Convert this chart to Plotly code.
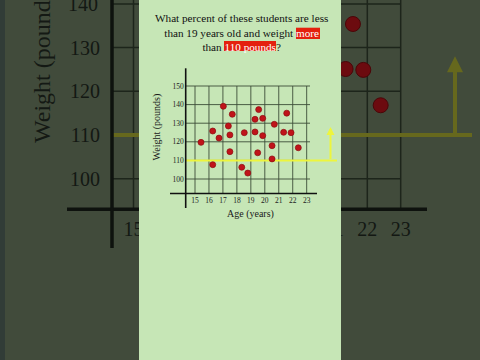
import plotly.graph_objects as go

# ---- data ----
ages = [15.43, 16.27, 16.27, 16.72, 17.03, 17.67, 17.39, 17.5, 17.5, 18.53, 18.35, 18.78, 19.3,
        19.3, 19.56, 19.85, 19.85, 19.49, 20.68, 20.52, 20.52, 21.35, 21.57, 21.88, 22.4]
weights = [119.7, 125.8, 107.7, 122.0, 139.1, 134.8, 128.5, 123.7, 114.7, 124.9, 106.3, 103.2, 132.1,
           125.3, 137.3, 132.6, 123.3, 114.1, 129.4, 117.9, 110.8, 125.1, 135.4, 124.9, 116.8]
age_ticks = [15, 16, 17, 18, 19, 20, 21, 22, 23]
weight_ticks = [100, 110, 120, 130, 140, 150]
threshold = 110
arrow_top = 128

W, H = 480, 360
SERIF = "Liberation Serif, Times New Roman, serif"

# ---- pixel mappings ----
bpx15, bpx_per = 133.5, 33.4      # background chart: value 15 at 133.5px, 33.4 px/yr
bpy110, bpy_per = 135.0, 4.37     # value 110 at 135px, 4.37 px/lb
def bgx(px): return 15 + (px - bpx15) / bpx_per
def bgy(py): return 110 + (bpy110 - py) / bpy_per

spx15, spx_per = 195.0, 13.96     # small chart
spy100, spy_per = 179.0, 1.86
def smx(px): return 15 + (px - spx15) / spx_per
def smy(py): return 100 + (spy100 - py) / spy_per

panel_l, panel_r = 139, 341

fig = go.Figure()

# background chart dots
fig.add_trace(go.Scatter(x=ages, y=weights, mode="markers", xaxis="x", yaxis="y",
                         marker=dict(size=15, color="#6c0b0f", line=dict(color="#4a0608", width=1)),
                         hoverinfo="skip", showlegend=False))
# green panel
fig.add_trace(go.Scatter(x=[0, 1, 1, 0], y=[0, 0, 1, 1], fill="toself", mode="lines",
                         fillcolor="#c6e6b6", line=dict(width=0), xaxis="x2", yaxis="y2",
                         hoverinfo="skip", showlegend=False))
# small chart dots
fig.add_trace(go.Scatter(x=ages, y=weights, mode="markers", xaxis="x3", yaxis="y3",
                         marker=dict(size=6, color="#c0141a", line=dict(color="#8c0c10", width=0.7)),
                         hoverinfo="skip", showlegend=False))

shapes = []
# ---- background chart decorations ----
bg_x_axis_y = bgy(209.3)
bg_y_axis_x = bgx(112)
bg_grid = "#1d251b"
for v in weight_ticks:
    shapes.append(dict(type="line", xref="x", yref="y", x0=bg_y_axis_x, x1=23, y0=v, y1=v,
                       line=dict(color=bg_grid, width=1.5), layer="below"))
for v in age_ticks:
    shapes.append(dict(type="line", xref="x", yref="y", x0=v, x1=v, y0=bg_x_axis_y, y1=150,
                       line=dict(color=bg_grid, width=1.5), layer="below"))
shapes.append(dict(type="line", xref="x", yref="y", x0=bg_y_axis_x, x1=bgx(472), y0=threshold, y1=threshold,
                   line=dict(color="#66681d", width=4), layer="below"))
shapes.append(dict(type="line", xref="x", yref="y", x0=bgx(67), x1=bgx(427), y0=bg_x_axis_y, y1=bg_x_axis_y,
                   line=dict(color="#0e120e", width=3.5), layer="below"))
shapes.append(dict(type="line", xref="x", yref="y", x0=bg_y_axis_x, x1=bg_y_axis_x, y0=bgy(248), y1=150,
                   line=dict(color="#0e120e", width=3.5), layer="below"))
shapes.append(dict(type="rect", xref="paper", yref="paper", x0=0, x1=5 / W, y0=0, y1=1,
                   fillcolor="#313c37", line=dict(width=0), layer="below"))

# ---- small chart decorations ----
sm_x_axis_y = smy(193.5)
sm_y_axis_x = smx(185.7)
sm_grid = "#3c4d38"
for v in weight_ticks:
    shapes.append(dict(type="line", xref="x3", yref="y3", x0=sm_y_axis_x, x1=smx(310), y0=v, y1=v,
                       line=dict(color=sm_grid, width=0.9), layer="below"))
for v in age_ticks:
    shapes.append(dict(type="line", xref="x3", yref="y3", x0=v, x1=v, y0=sm_x_axis_y, y1=150,
                       line=dict(color=sm_grid, width=0.9), layer="below"))
shapes.append(dict(type="line", xref="x3", yref="y3", x0=sm_y_axis_x, x1=smx(337), y0=threshold, y1=threshold,
                   line=dict(color="#eef53c", width=2), layer="below"))
shapes.append(dict(type="line", xref="x3", yref="y3", x0=smx(170), x1=smx(317), y0=sm_x_axis_y, y1=sm_x_axis_y,
                   line=dict(color="#111111", width=1.6), layer="below"))
shapes.append(dict(type="line", xref="x3", yref="y3", x0=sm_y_axis_x, x1=sm_y_axis_x, y0=smy(208), y1=smy(68.3),
                   line=dict(color="#111111", width=1.6), layer="below"))

# red highlight boxes for question words
shapes.append(dict(type="rect", xref="paper", yref="paper", x0=296 / W, x1=320 / W,
                   y0=1 - 39 / H, y1=1 - 27.7 / H, fillcolor="#e4200e", line=dict(width=0), layer="above"))
shapes.append(dict(type="rect", xref="paper", yref="paper", x0=224 / W, x1=276 / W,
                   y0=1 - 51 / H, y1=1 - 41 / H, fillcolor="#e4200e", line=dict(width=0), layer="above"))

annotations = [
    dict(xref="paper", yref="paper", x=241.5 / W, y=1 - 32.5 / H, xanchor="center", yanchor="middle",
         showarrow=False, align="center",
         text="What percent of these students are less<br>than 19 years old and weight "
              "<span style='color:white'>more</span><br>than <span style='color:white'>110 pounds</span>?",
         font=dict(family=SERIF, size=11.2, color="#111111")),
    dict(xref="paper", yref="paper", x=156.7 / W, y=1 - 126.7 / H, textangle=-90, showarrow=False,
         xanchor="center", yanchor="middle", text="Weight (pounds)",
         font=dict(family=SERIF, size=10, color="#1a1a1a")),
    dict(xref="paper", yref="paper", x=250 / W, y=1 - 214 / H, showarrow=False,
         xanchor="center", yanchor="middle", text="Age (years)",
         font=dict(family=SERIF, size=10, color="#1a1a1a")),
    dict(xref="paper", yref="paper", x=42 / W, y=1 - 63 / H, textangle=-90, showarrow=False,
         xanchor="center", yanchor="middle", text="Weight (pounds)",
         font=dict(family=SERIF, size=24, color="#141914")),
    # top background tick label (partly above the frame)
    dict(xref="paper", yref="y", x=100 / W, y=weight_ticks[4], xanchor="right", yanchor="middle",
         showarrow=False, text=str(weight_ticks[4]),
         font=dict(family=SERIF, size=20, color="#131813")),
    dict(xref="x", yref="y", axref="x", ayref="y", x=bgx(455), y=arrow_top, ax=bgx(455), ay=threshold,
         showarrow=True, arrowhead=2, arrowsize=0.8, arrowwidth=4, arrowcolor="#66681d", text=""),
    dict(xref="x3", yref="y3", axref="x3", ayref="y3", x=smx(330.5), y=arrow_top, ax=smx(330.5), ay=threshold,
         showarrow=True, arrowhead=2, arrowsize=0.8, arrowwidth=2, arrowcolor="#eef53c", text=""),
]

hidden = dict(showgrid=False, zeroline=False, showline=False, ticks="")
fig.update_layout(
    width=W, height=H, margin=dict(l=0, r=0, t=0, b=0),
    paper_bgcolor="#414b3b", plot_bgcolor="rgba(0,0,0,0)",
    showlegend=False,
    xaxis=dict(domain=[0, 1], range=[bgx(0), bgx(W)], anchor="free", position=1 - 209.3 / H,
               tickvals=age_ticks, ticklabelstandoff=6,
               tickfont=dict(family=SERIF, size=20, color="#131813"), **hidden),
    yaxis=dict(domain=[0, 1], range=[bgy(H), bgy(0)], anchor="free", position=112 / W,
               tickvals=weight_ticks[:4], ticklabelstandoff=12,
               tickfont=dict(family=SERIF, size=20, color="#131813"), **hidden),
    xaxis2=dict(domain=[panel_l / W, panel_r / W], range=[0, 1], anchor="y2", showticklabels=False, **hidden),
    yaxis2=dict(domain=[0, 1], range=[0, 1], anchor="x2", showticklabels=False, **hidden),
    xaxis3=dict(domain=[panel_l / W, panel_r / W], range=[smx(panel_l), smx(panel_r)], anchor="free",
                position=1 - 193.5 / H, tickvals=age_ticks, ticklabelstandoff=1,
                tickfont=dict(family=SERIF, size=7.5, color="#222222"), **hidden),
    yaxis3=dict(domain=[0, 1], range=[smy(H), smy(0)], anchor="free", position=185.7 / W,
                tickvals=weight_ticks, ticklabelstandoff=2,
                tickfont=dict(family=SERIF, size=7.5, color="#222222"), **hidden),
    shapes=shapes, annotations=annotations,
)

fig.write_html("out.html", config={"displayModeBar": False},
               post_script="document.documentElement.style.overflow='hidden';"
                           "document.body.style.margin='0';document.body.style.overflow='hidden';"
                           "window.scrollTo(0,0);")
